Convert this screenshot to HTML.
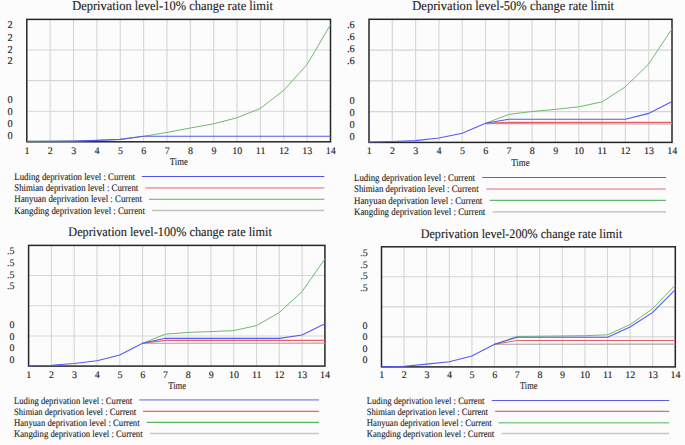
<!DOCTYPE html>
<html><head><meta charset="utf-8"><title>Deprivation level change rate limit</title>
<style>
html,body{margin:0;padding:0;background:#fcfcfc;width:685px;height:445px;overflow:hidden;}
svg{display:block;font-family:"Liberation Serif",serif;text-rendering:geometricPrecision;}
svg text{fill:#1c1c1c;stroke:#1c1c1c;stroke-width:0.12px;}
</style></head><body>
<svg width="685" height="445" viewBox="0 0 685 445">
<rect width="685" height="445" fill="#fcfcfc"/>
<line x1="50.16" y1="19.4" x2="50.16" y2="141.8" stroke="#d6d6d6" stroke-width="1.1"/>
<line x1="73.52" y1="19.4" x2="73.52" y2="141.8" stroke="#d6d6d6" stroke-width="1.1"/>
<line x1="96.88" y1="19.4" x2="96.88" y2="141.8" stroke="#d6d6d6" stroke-width="1.1"/>
<line x1="120.25" y1="19.4" x2="120.25" y2="141.8" stroke="#d6d6d6" stroke-width="1.1"/>
<line x1="143.61" y1="19.4" x2="143.61" y2="141.8" stroke="#d6d6d6" stroke-width="1.1"/>
<line x1="166.97" y1="19.4" x2="166.97" y2="141.8" stroke="#d6d6d6" stroke-width="1.1"/>
<line x1="190.33" y1="19.4" x2="190.33" y2="141.8" stroke="#d6d6d6" stroke-width="1.1"/>
<line x1="213.69" y1="19.4" x2="213.69" y2="141.8" stroke="#d6d6d6" stroke-width="1.1"/>
<line x1="237.05" y1="19.4" x2="237.05" y2="141.8" stroke="#d6d6d6" stroke-width="1.1"/>
<line x1="260.42" y1="19.4" x2="260.42" y2="141.8" stroke="#d6d6d6" stroke-width="1.1"/>
<line x1="283.78" y1="19.4" x2="283.78" y2="141.8" stroke="#d6d6d6" stroke-width="1.1"/>
<line x1="307.14" y1="19.4" x2="307.14" y2="141.8" stroke="#d6d6d6" stroke-width="1.1"/>
<line x1="26.8" y1="50" x2="330.5" y2="50" stroke="#d6d6d6" stroke-width="1.1"/>
<line x1="26.8" y1="80.6" x2="330.5" y2="80.6" stroke="#d6d6d6" stroke-width="1.1"/>
<line x1="26.8" y1="111.2" x2="330.5" y2="111.2" stroke="#d6d6d6" stroke-width="1.1"/>
<rect x="26.8" y="19.4" width="303.7" height="122.4" fill="none" stroke="#262626" stroke-width="1.5"/>
<polyline points="26.8,141.3 50.16,141.2 73.52,141 96.88,140.4 120.25,139.4 143.61,136.3 166.97,132.4 190.33,128 213.69,123.8 237.05,117.7 260.42,108.4 283.78,90.3 307.14,64.4 330.5,24.7" fill="none" stroke="#6cbc6c" stroke-width="1.0"/>
<polyline points="26.8,141.3 50.16,141.2 73.52,141 96.88,140.4 120.25,139.4 143.61,136.3 330.5,136.3" fill="none" stroke="#5858f2" stroke-width="1.1"/>
<text x="72.2" y="9.7" font-size="13.2" textLength="200.7" lengthAdjust="spacingAndGlyphs">Deprivation level-10% change rate limit</text>
<text x="12.8" y="28.4" font-size="10.4" text-anchor="end">2</text>
<text x="12.8" y="40.6" font-size="10.4" text-anchor="end">2</text>
<text x="12.8" y="52.5" font-size="10.4" text-anchor="end">2</text>
<text x="12.8" y="64.3" font-size="10.4" text-anchor="end">2</text>
<text x="12.6" y="103.2" font-size="10.4" text-anchor="end">0</text>
<text x="12.6" y="115.2" font-size="10.4" text-anchor="end">0</text>
<text x="12.6" y="127" font-size="10.4" text-anchor="end">0</text>
<text x="12.6" y="138.9" font-size="10.4" text-anchor="end">0</text>
<text x="27" y="153.6" font-size="10" text-anchor="middle">1</text>
<text x="50.36" y="153.6" font-size="10" text-anchor="middle">2</text>
<text x="73.72" y="153.6" font-size="10" text-anchor="middle">3</text>
<text x="97.08" y="153.6" font-size="10" text-anchor="middle">4</text>
<text x="120.45" y="153.6" font-size="10" text-anchor="middle">5</text>
<text x="143.81" y="153.6" font-size="10" text-anchor="middle">6</text>
<text x="167.17" y="153.6" font-size="10" text-anchor="middle">7</text>
<text x="190.53" y="153.6" font-size="10" text-anchor="middle">8</text>
<text x="213.89" y="153.6" font-size="10" text-anchor="middle">9</text>
<text x="237.25" y="153.6" font-size="10" text-anchor="middle">10</text>
<text x="260.62" y="153.6" font-size="10" text-anchor="middle">11</text>
<text x="283.98" y="153.6" font-size="10" text-anchor="middle">12</text>
<text x="307.34" y="153.6" font-size="10" text-anchor="middle">13</text>
<text x="330.7" y="153.6" font-size="10" text-anchor="middle">14</text>
<text x="169.7" y="165" font-size="10.5" textLength="18.1" lengthAdjust="spacingAndGlyphs">Time</text>
<text x="14.3" y="179.8" font-size="10" textLength="120.7" lengthAdjust="spacingAndGlyphs">Luding deprivation level : Current</text>
<line x1="141.8" y1="176.5" x2="324.3" y2="176.5" stroke="#5252f0" stroke-width="1.1"/>
<text x="14.3" y="191" font-size="10" textLength="124" lengthAdjust="spacingAndGlyphs">Shimian deprivation level : Current</text>
<line x1="145.3" y1="187.8" x2="324.3" y2="187.8" stroke="#f4a2aa" stroke-width="1.7"/>
<text x="14.3" y="202.3" font-size="10" textLength="127.7" lengthAdjust="spacingAndGlyphs">Hanyuan deprivation level : Current</text>
<line x1="149" y1="199.3" x2="324.3" y2="199.3" stroke="#5eb25e" stroke-width="1.1"/>
<text x="14.3" y="213.5" font-size="10" textLength="130.7" lengthAdjust="spacingAndGlyphs">Kangding deprivation level : Current</text>
<line x1="152" y1="210.5" x2="324.3" y2="210.5" stroke="#c0c0c0" stroke-width="1.5"/>
<line x1="392.31" y1="19.3" x2="392.31" y2="142.4" stroke="#d6d6d6" stroke-width="1.1"/>
<line x1="415.62" y1="19.3" x2="415.62" y2="142.4" stroke="#d6d6d6" stroke-width="1.1"/>
<line x1="438.92" y1="19.3" x2="438.92" y2="142.4" stroke="#d6d6d6" stroke-width="1.1"/>
<line x1="462.23" y1="19.3" x2="462.23" y2="142.4" stroke="#d6d6d6" stroke-width="1.1"/>
<line x1="485.54" y1="19.3" x2="485.54" y2="142.4" stroke="#d6d6d6" stroke-width="1.1"/>
<line x1="508.85" y1="19.3" x2="508.85" y2="142.4" stroke="#d6d6d6" stroke-width="1.1"/>
<line x1="532.15" y1="19.3" x2="532.15" y2="142.4" stroke="#d6d6d6" stroke-width="1.1"/>
<line x1="555.46" y1="19.3" x2="555.46" y2="142.4" stroke="#d6d6d6" stroke-width="1.1"/>
<line x1="578.77" y1="19.3" x2="578.77" y2="142.4" stroke="#d6d6d6" stroke-width="1.1"/>
<line x1="602.08" y1="19.3" x2="602.08" y2="142.4" stroke="#d6d6d6" stroke-width="1.1"/>
<line x1="625.38" y1="19.3" x2="625.38" y2="142.4" stroke="#d6d6d6" stroke-width="1.1"/>
<line x1="648.69" y1="19.3" x2="648.69" y2="142.4" stroke="#d6d6d6" stroke-width="1.1"/>
<line x1="369" y1="50.08" x2="672" y2="50.08" stroke="#d6d6d6" stroke-width="1.1"/>
<line x1="369" y1="80.85" x2="672" y2="80.85" stroke="#d6d6d6" stroke-width="1.1"/>
<line x1="369" y1="111.62" x2="672" y2="111.62" stroke="#d6d6d6" stroke-width="1.1"/>
<rect x="369" y="19.3" width="303" height="123.1" fill="none" stroke="#262626" stroke-width="1.5"/>
<polyline points="485.54,123.6 672,124" fill="none" stroke="#a4a4a4" stroke-width="1.1"/>
<polyline points="485.54,123.3 508.85,122.4 672,122.4" fill="none" stroke="#ee5c68" stroke-width="1.1"/>
<polyline points="485.54,123.3 508.85,114.4 532.15,111.5 555.46,109.4 578.77,106.8 602.08,101.9 625.38,86.8 648.69,64 672,28.8" fill="none" stroke="#6cbc6c" stroke-width="1.0"/>
<polyline points="369,142 392.31,141.5 415.62,140.6 438.92,138 462.23,133.3 485.54,123.3 508.85,119.2 625.38,119.2 648.69,113.4 672,101.4" fill="none" stroke="#5858f2" stroke-width="1.1"/>
<text x="412.3" y="9.7" font-size="13.2" textLength="201.8" lengthAdjust="spacingAndGlyphs">Deprivation level-50% change rate limit</text>
<text x="354.8" y="28" font-size="10.4" text-anchor="end">.6</text>
<text x="354.8" y="39.9" font-size="10.4" text-anchor="end">.6</text>
<text x="354.8" y="52" font-size="10.4" text-anchor="end">.6</text>
<text x="354.8" y="64.3" font-size="10.4" text-anchor="end">.6</text>
<text x="354.6" y="104.2" font-size="10.4" text-anchor="end">0</text>
<text x="354.6" y="116" font-size="10.4" text-anchor="end">0</text>
<text x="354.6" y="127.8" font-size="10.4" text-anchor="end">0</text>
<text x="354.6" y="139.7" font-size="10.4" text-anchor="end">0</text>
<text x="369.2" y="154.2" font-size="10" text-anchor="middle">1</text>
<text x="392.51" y="154.2" font-size="10" text-anchor="middle">2</text>
<text x="415.82" y="154.2" font-size="10" text-anchor="middle">3</text>
<text x="439.12" y="154.2" font-size="10" text-anchor="middle">4</text>
<text x="462.43" y="154.2" font-size="10" text-anchor="middle">5</text>
<text x="485.74" y="154.2" font-size="10" text-anchor="middle">6</text>
<text x="509.05" y="154.2" font-size="10" text-anchor="middle">7</text>
<text x="532.35" y="154.2" font-size="10" text-anchor="middle">8</text>
<text x="555.66" y="154.2" font-size="10" text-anchor="middle">9</text>
<text x="578.97" y="154.2" font-size="10" text-anchor="middle">10</text>
<text x="602.28" y="154.2" font-size="10" text-anchor="middle">11</text>
<text x="625.58" y="154.2" font-size="10" text-anchor="middle">12</text>
<text x="648.89" y="154.2" font-size="10" text-anchor="middle">13</text>
<text x="672.2" y="154.2" font-size="10" text-anchor="middle">14</text>
<text x="511.3" y="165.8" font-size="10.5" textLength="18.3" lengthAdjust="spacingAndGlyphs">Time</text>
<text x="354" y="181" font-size="10" textLength="121" lengthAdjust="spacingAndGlyphs">Luding deprivation level : Current</text>
<line x1="482.3" y1="177.5" x2="666" y2="177.5" stroke="#5a5af0" stroke-width="1.2"/>
<text x="354" y="192.2" font-size="10" textLength="124.6" lengthAdjust="spacingAndGlyphs">Shimian deprivation level : Current</text>
<line x1="486.1" y1="189" x2="666" y2="189" stroke="#f49aa2" stroke-width="1.6"/>
<text x="354" y="203.6" font-size="10" textLength="128.3" lengthAdjust="spacingAndGlyphs">Hanyuan deprivation level : Current</text>
<line x1="489.6" y1="200.4" x2="666" y2="200.4" stroke="#68b668" stroke-width="1.2"/>
<text x="354" y="214.9" font-size="10" textLength="131.3" lengthAdjust="spacingAndGlyphs">Kangding deprivation level : Current</text>
<line x1="492.8" y1="211.9" x2="666" y2="211.9" stroke="#cccccc" stroke-width="1.7"/>
<line x1="51.39" y1="245.4" x2="51.39" y2="366.1" stroke="#d6d6d6" stroke-width="1.1"/>
<line x1="74.18" y1="245.4" x2="74.18" y2="366.1" stroke="#d6d6d6" stroke-width="1.1"/>
<line x1="96.98" y1="245.4" x2="96.98" y2="366.1" stroke="#d6d6d6" stroke-width="1.1"/>
<line x1="119.77" y1="245.4" x2="119.77" y2="366.1" stroke="#d6d6d6" stroke-width="1.1"/>
<line x1="142.56" y1="245.4" x2="142.56" y2="366.1" stroke="#d6d6d6" stroke-width="1.1"/>
<line x1="165.35" y1="245.4" x2="165.35" y2="366.1" stroke="#d6d6d6" stroke-width="1.1"/>
<line x1="188.15" y1="245.4" x2="188.15" y2="366.1" stroke="#d6d6d6" stroke-width="1.1"/>
<line x1="210.94" y1="245.4" x2="210.94" y2="366.1" stroke="#d6d6d6" stroke-width="1.1"/>
<line x1="233.73" y1="245.4" x2="233.73" y2="366.1" stroke="#d6d6d6" stroke-width="1.1"/>
<line x1="256.52" y1="245.4" x2="256.52" y2="366.1" stroke="#d6d6d6" stroke-width="1.1"/>
<line x1="279.32" y1="245.4" x2="279.32" y2="366.1" stroke="#d6d6d6" stroke-width="1.1"/>
<line x1="302.11" y1="245.4" x2="302.11" y2="366.1" stroke="#d6d6d6" stroke-width="1.1"/>
<line x1="28.6" y1="275.57" x2="324.9" y2="275.57" stroke="#d6d6d6" stroke-width="1.1"/>
<line x1="28.6" y1="305.75" x2="324.9" y2="305.75" stroke="#d6d6d6" stroke-width="1.1"/>
<line x1="28.6" y1="335.93" x2="324.9" y2="335.93" stroke="#d6d6d6" stroke-width="1.1"/>
<rect x="28.6" y="245.4" width="296.3" height="120.7" fill="none" stroke="#262626" stroke-width="1.5"/>
<polyline points="142.56,343.3 324.9,343.1" fill="none" stroke="#a4a4a4" stroke-width="1.1"/>
<polyline points="142.56,343.3 165.35,340.4 324.9,340.4" fill="none" stroke="#ee5c68" stroke-width="1.1"/>
<polyline points="142.56,343.3 165.35,334.2 188.15,332.4 210.94,331.6 233.73,330.6 256.52,325.6 279.32,312.5 302.11,291.5 324.9,258.9" fill="none" stroke="#6cbc6c" stroke-width="1.0"/>
<polyline points="28.6,366 51.39,365.3 74.18,363.5 96.98,360.8 119.77,355 142.56,343.3 165.35,338.3 279.32,338.4 302.11,335 324.9,323.8" fill="none" stroke="#5858f2" stroke-width="1.1"/>
<text x="68.3" y="236" font-size="13.0" textLength="203.5" lengthAdjust="spacingAndGlyphs">Deprivation level-100% change rate limit</text>
<text x="14.6" y="254.2" font-size="10" text-anchor="end">.5</text>
<text x="14.6" y="265.8" font-size="10" text-anchor="end">.5</text>
<text x="14.6" y="277.6" font-size="10" text-anchor="end">.5</text>
<text x="14.6" y="289.2" font-size="10" text-anchor="end">.5</text>
<text x="14.6" y="327.8" font-size="10" text-anchor="end">0</text>
<text x="14.6" y="339.6" font-size="10" text-anchor="end">0</text>
<text x="14.6" y="351.2" font-size="10" text-anchor="end">0</text>
<text x="14.6" y="363" font-size="10" text-anchor="end">0</text>
<text x="28.8" y="377.6" font-size="10" text-anchor="middle">1</text>
<text x="51.59" y="377.6" font-size="10" text-anchor="middle">2</text>
<text x="74.38" y="377.6" font-size="10" text-anchor="middle">3</text>
<text x="97.18" y="377.6" font-size="10" text-anchor="middle">4</text>
<text x="119.97" y="377.6" font-size="10" text-anchor="middle">5</text>
<text x="142.76" y="377.6" font-size="10" text-anchor="middle">6</text>
<text x="165.55" y="377.6" font-size="10" text-anchor="middle">7</text>
<text x="188.35" y="377.6" font-size="10" text-anchor="middle">8</text>
<text x="211.14" y="377.6" font-size="10" text-anchor="middle">9</text>
<text x="233.93" y="377.6" font-size="10" text-anchor="middle">10</text>
<text x="256.72" y="377.6" font-size="10" text-anchor="middle">11</text>
<text x="279.52" y="377.6" font-size="10" text-anchor="middle">12</text>
<text x="302.31" y="377.6" font-size="10" text-anchor="middle">13</text>
<text x="325.1" y="377.6" font-size="10" text-anchor="middle">14</text>
<text x="168.2" y="388.7" font-size="10.5" textLength="17.9" lengthAdjust="spacingAndGlyphs">Time</text>
<text x="13.9" y="403.6" font-size="9.8" textLength="118.3" lengthAdjust="spacingAndGlyphs">Luding deprivation level : Current</text>
<line x1="139.3" y1="399.9" x2="319" y2="399.9" stroke="#a4a4f6" stroke-width="1.7"/>
<text x="13.9" y="414.6" font-size="9.8" textLength="122.2" lengthAdjust="spacingAndGlyphs">Shimian deprivation level : Current</text>
<line x1="143" y1="411.4" x2="319" y2="411.4" stroke="#f0606e" stroke-width="1.2"/>
<text x="13.9" y="425.8" font-size="9.8" textLength="125.7" lengthAdjust="spacingAndGlyphs">Hanyuan deprivation level : Current</text>
<line x1="146.7" y1="422.4" x2="319" y2="422.4" stroke="#5eb25e" stroke-width="1.2"/>
<text x="13.9" y="436.9" font-size="9.8" textLength="128.7" lengthAdjust="spacingAndGlyphs">Kangding deprivation level : Current</text>
<line x1="150" y1="433.5" x2="319" y2="433.5" stroke="#c6c6c6" stroke-width="1.6"/>
<line x1="404.1" y1="246.8" x2="404.1" y2="366.9" stroke="#d6d6d6" stroke-width="1.1"/>
<line x1="426.7" y1="246.8" x2="426.7" y2="366.9" stroke="#d6d6d6" stroke-width="1.1"/>
<line x1="449.3" y1="246.8" x2="449.3" y2="366.9" stroke="#d6d6d6" stroke-width="1.1"/>
<line x1="471.9" y1="246.8" x2="471.9" y2="366.9" stroke="#d6d6d6" stroke-width="1.1"/>
<line x1="494.5" y1="246.8" x2="494.5" y2="366.9" stroke="#d6d6d6" stroke-width="1.1"/>
<line x1="517.1" y1="246.8" x2="517.1" y2="366.9" stroke="#d6d6d6" stroke-width="1.1"/>
<line x1="539.7" y1="246.8" x2="539.7" y2="366.9" stroke="#d6d6d6" stroke-width="1.1"/>
<line x1="562.3" y1="246.8" x2="562.3" y2="366.9" stroke="#d6d6d6" stroke-width="1.1"/>
<line x1="584.9" y1="246.8" x2="584.9" y2="366.9" stroke="#d6d6d6" stroke-width="1.1"/>
<line x1="607.5" y1="246.8" x2="607.5" y2="366.9" stroke="#d6d6d6" stroke-width="1.1"/>
<line x1="630.1" y1="246.8" x2="630.1" y2="366.9" stroke="#d6d6d6" stroke-width="1.1"/>
<line x1="652.7" y1="246.8" x2="652.7" y2="366.9" stroke="#d6d6d6" stroke-width="1.1"/>
<line x1="381.5" y1="276.82" x2="675.3" y2="276.82" stroke="#d6d6d6" stroke-width="1.1"/>
<line x1="381.5" y1="306.85" x2="675.3" y2="306.85" stroke="#d6d6d6" stroke-width="1.1"/>
<line x1="381.5" y1="336.88" x2="675.3" y2="336.88" stroke="#d6d6d6" stroke-width="1.1"/>
<rect x="381.5" y="246.8" width="293.8" height="120.1" fill="none" stroke="#262626" stroke-width="1.5"/>
<polyline points="494.5,344.3 675.3,344.1" fill="none" stroke="#a4a4a4" stroke-width="1.1"/>
<polyline points="494.5,344.3 517.1,340.5 675.3,340.5" fill="none" stroke="#ee5c68" stroke-width="1.1"/>
<polyline points="494.5,344.3 517.1,336.4 584.9,335.7 607.5,334.8 630.1,324.6 652.7,308.6 675.3,285" fill="none" stroke="#6cbc6c" stroke-width="1.0"/>
<polyline points="381.5,366.8 404.1,366.3 426.7,364.1 449.3,361.7 471.9,356 494.5,344.3 517.1,337.3 607.5,337.2 630.1,327 652.7,312.4 675.3,289.6" fill="none" stroke="#5858f2" stroke-width="1.1"/>
<text x="420.7" y="237.8" font-size="13.0" textLength="201.6" lengthAdjust="spacingAndGlyphs">Deprivation level-200% change rate limit</text>
<text x="367.8" y="256" font-size="10" text-anchor="end">.5</text>
<text x="367.8" y="267.7" font-size="10" text-anchor="end">.5</text>
<text x="367.8" y="279.2" font-size="10" text-anchor="end">.5</text>
<text x="367.8" y="290.7" font-size="10" text-anchor="end">.5</text>
<text x="367.6" y="328.6" font-size="10" text-anchor="end">0</text>
<text x="367.6" y="340.4" font-size="10" text-anchor="end">0</text>
<text x="367.6" y="351.9" font-size="10" text-anchor="end">0</text>
<text x="367.6" y="363.4" font-size="10" text-anchor="end">0</text>
<text x="381.7" y="378.1" font-size="10" text-anchor="middle">1</text>
<text x="404.3" y="378.1" font-size="10" text-anchor="middle">2</text>
<text x="426.9" y="378.1" font-size="10" text-anchor="middle">3</text>
<text x="449.5" y="378.1" font-size="10" text-anchor="middle">4</text>
<text x="472.1" y="378.1" font-size="10" text-anchor="middle">5</text>
<text x="494.7" y="378.1" font-size="10" text-anchor="middle">6</text>
<text x="517.3" y="378.1" font-size="10" text-anchor="middle">7</text>
<text x="539.9" y="378.1" font-size="10" text-anchor="middle">8</text>
<text x="562.5" y="378.1" font-size="10" text-anchor="middle">9</text>
<text x="585.1" y="378.1" font-size="10" text-anchor="middle">10</text>
<text x="607.7" y="378.1" font-size="10" text-anchor="middle">11</text>
<text x="630.3" y="378.1" font-size="10" text-anchor="middle">12</text>
<text x="652.9" y="378.1" font-size="10" text-anchor="middle">13</text>
<text x="675.5" y="378.1" font-size="10" text-anchor="middle">14</text>
<text x="520" y="388.9" font-size="10.5" textLength="17.4" lengthAdjust="spacingAndGlyphs">Time</text>
<text x="366.8" y="403.9" font-size="9.8" textLength="117.5" lengthAdjust="spacingAndGlyphs">Luding deprivation level : Current</text>
<line x1="491.8" y1="400.5" x2="669.2" y2="400.5" stroke="#5c5cf0" stroke-width="1.2"/>
<text x="366.8" y="414.8" font-size="9.8" textLength="121.2" lengthAdjust="spacingAndGlyphs">Shimian deprivation level : Current</text>
<line x1="495.1" y1="411.4" x2="669.2" y2="411.4" stroke="#f0606e" stroke-width="1.2"/>
<text x="366.8" y="425.8" font-size="9.8" textLength="124.9" lengthAdjust="spacingAndGlyphs">Hanyuan deprivation level : Current</text>
<line x1="498.6" y1="422.8" x2="669.2" y2="422.8" stroke="#8ccc8c" stroke-width="1.6"/>
<text x="366.8" y="437" font-size="9.8" textLength="127.4" lengthAdjust="spacingAndGlyphs">Kangding deprivation level : Current</text>
<line x1="501.7" y1="433.5" x2="669.2" y2="433.5" stroke="#c6c6c6" stroke-width="1.6"/>
</svg>
</body></html>
